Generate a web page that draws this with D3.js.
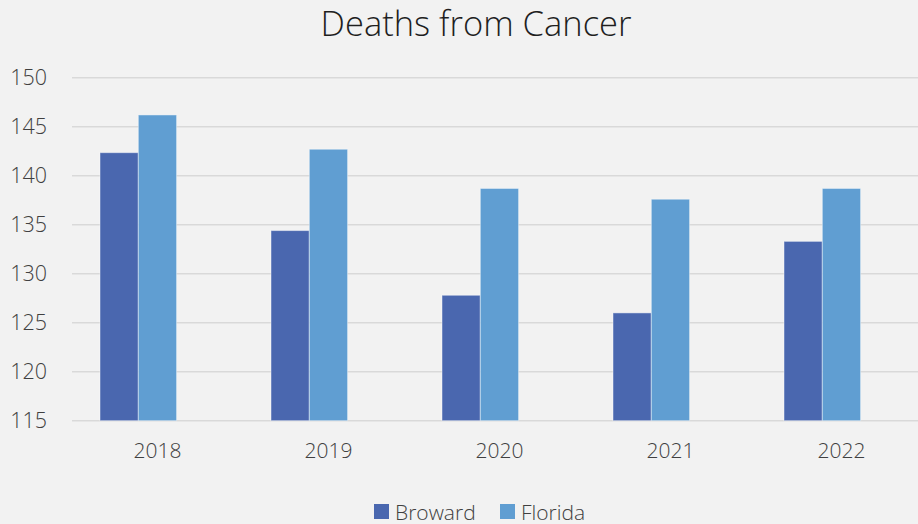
<!DOCTYPE html>
<html>
<head>
<meta charset="utf-8">
<script src="https://cdn.jsdelivr.net/npm/d3@7"></script>
<style>
  html, body { margin: 0; padding: 0; background: #f2f2f2; }
  svg { display: block; }
  text { font-family: "Open Sans", "Segoe UI", sans-serif; font-weight: 300; }
</style>
</head>
<body>
<svg id="chart" width="918" height="524"></svg>
<script>
const years = ["2018", "2019", "2020", "2021", "2022"];
const seriesNames = ["Broward", "Florida"];
const broward = [142.35, 134.4, 127.8, 126.0, 133.3];
const florida = [146.2, 142.7, 138.7, 137.6, 138.7];
const yTicks = [115, 120, 125, 130, 135, 140, 145, 150];
const colors = ["#4a67af", "#609ed2"];

const W = 918, H = 524;
const svg = d3.select("#chart");
svg.append("rect").attr("width", W).attr("height", H).attr("fill", "#f2f2f2");

const plotLeft = 72, plotRight = 918;
const y = d3.scaleLinear().domain([115, 150]).range([420.7, 77.7]);

// category scale for labels
const xLabel = d3.scaleBand().domain(years).range([72, 927]);
// category scale for bar groups
const xBar = d3.scaleBand().domain(years).range([52.8, 907.8]).paddingInner(0.552).paddingOuter(0.276);
const xSeries = d3.scaleBand().domain(seriesNames).range([0, xBar.bandwidth()]);

// gridlines
svg.append("g").selectAll("line").data(yTicks).join("line")
  .attr("x1", plotLeft).attr("x2", plotRight)
  .attr("y1", d => y(d)).attr("y2", d => y(d))
  .attr("stroke", "#d9d9d9").attr("stroke-width", 1.6);

// y axis labels
const yAxis = d3.axisLeft(y).tickValues(yTicks).tickSize(0).tickPadding(0);
const gy = svg.append("g").attr("transform", "translate(47,0)").call(yAxis);
gy.select(".domain").remove();
gy.selectAll("text").attr("font-size", 21.5).attr("fill", "#404040")
  .attr("font-family", "'Open Sans', sans-serif").attr("font-weight", 300);

// bars
const data = years.map((yr, i) => ({ year: yr, values: [broward[i], florida[i]] }));
const groups = svg.append("g").selectAll("g").data(data).join("g")
  .attr("transform", d => `translate(${xBar(d.year)},0)`);
groups.selectAll("rect").data(d => d.values.map((v, j) => ({ name: seriesNames[j], v, j })))
  .join("rect")
  .attr("x", d => xSeries(d.name))
  .attr("width", xSeries.bandwidth())
  .attr("y", d => y(d.v))
  .attr("height", d => y(115) - y(d.v))
  .attr("fill", d => colors[d.j])
  .attr("stroke", "rgba(255,255,255,0.45)")
  .attr("stroke-width", 1);

// x axis labels
const xAxis = d3.axisBottom(xLabel).tickSize(0).tickPadding(0);
const gx = svg.append("g").attr("transform", "translate(0,443)").call(xAxis);
gx.select(".domain").remove();
gx.selectAll("text").attr("font-size", 21).attr("fill", "#404040")
  .attr("font-family", "'Open Sans', sans-serif").attr("font-weight", 300);

// title
svg.append("text").attr("x", 476).attr("y", 36)
  .attr("text-anchor", "middle").attr("font-size", 34.5).attr("fill", "#1f1f1f")
  .text("Deaths from Cancer");

// legend
const legendItems = [{ name: "Broward", x: 374 }, { name: "Florida", x: 500 }];
const lg = svg.append("g").selectAll("g").data(seriesNames).join("g")
  .attr("transform", (d, i) => `translate(${legendItems[i].x},504)`);
lg.append("rect").attr("width", 15).attr("height", 15).attr("fill", (d, i) => colors[i]);
lg.append("text").attr("x", 21).attr("y", 15.5).attr("font-size", 21).attr("fill", "#404040").text(d => d);
</script>
</body>
</html>
